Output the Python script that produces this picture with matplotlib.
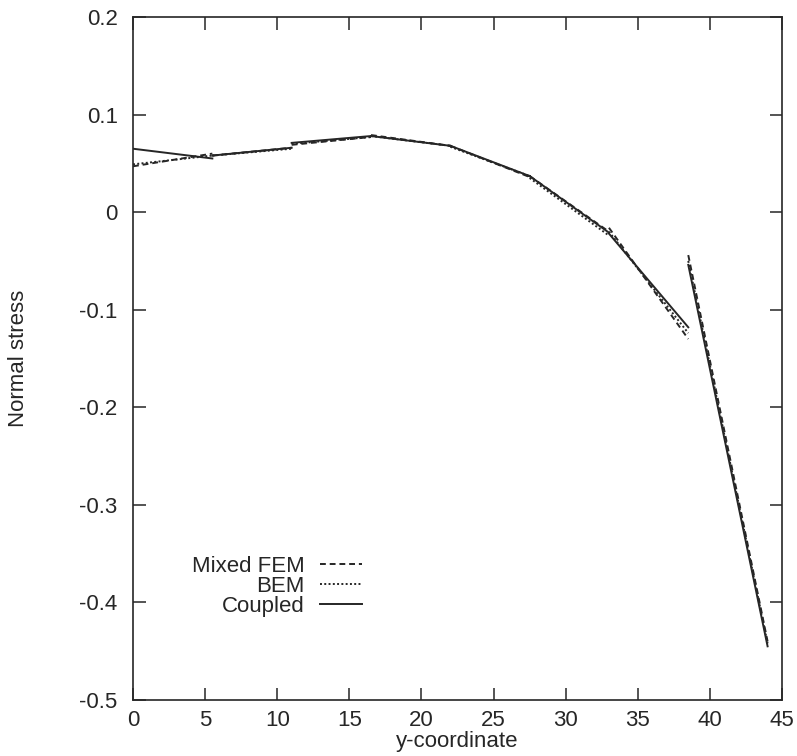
import matplotlib
matplotlib.use("Agg")
import matplotlib.pyplot as plt
from matplotlib.ticker import FuncFormatter

plt.rcParams.update({"font.family": ["Liberation Sans", "DejaVu Sans"],
                     "font.size": 16, "axes.unicode_minus": False})

INK = "#262626"

# element end points (discontinuous, piecewise linear per element)
elem_edges = [0.0, 5.5, 11.0, 16.5, 22.0, 27.5, 33.0, 38.5, 44.0]

# (start value, end value) per element
mixed_fem = [(0.047, 0.060), (0.058, 0.066), (0.069, 0.077), (0.079, 0.068),
             (0.068, 0.036), (0.037, -0.020), (-0.016, -0.130), (-0.044, -0.440)]
bem = [(0.049, 0.058), (0.058, 0.065), (0.070, 0.077), (0.078, 0.068),
       (0.067, 0.037), (0.035, -0.024), (-0.020, -0.124), (-0.050, -0.442)]
coupled = [(0.065, 0.055), (0.058, 0.066), (0.071, 0.078), (0.078, 0.068),
           (0.068, 0.037), (0.037, -0.021), (-0.022, -0.118), (-0.054, -0.445)]

series = [("Mixed FEM", mixed_fem, (0, (3, 2))),
          ("BEM", bem, (0, (1, 1.2))),
          ("Coupled", coupled, "-")]

fig = plt.figure(figsize=(7.97, 7.56), dpi=100)
ax = fig.add_axes([0.1669, 0.0741, 0.8143, 0.9034])

for name, vals, ls in series:
    xs, ys = [], []
    for i, (a, b) in enumerate(vals):
        xs += [elem_edges[i], elem_edges[i + 1], float("nan")]
        ys += [a, b, float("nan")]
    ax.plot(xs, ys, color=INK, lw=1.4, ls=ls, label=name)

ax.set_xlim(0, 45)
ax.set_ylim(-0.5, 0.2)
ax.set_xticks(range(0, 46, 5))
ax.set_yticks([-0.5, -0.4, -0.3, -0.2, -0.1, 0.0, 0.1, 0.2])
ax.yaxis.set_major_formatter(FuncFormatter(lambda v, p: "0" if abs(v) < 1e-9 else f"{v:.1f}"))
ax.tick_params(direction="in", length=9, width=1.1, top=True, right=True,
               colors=INK, labelcolor=INK, labelsize=16)
ax.tick_params(axis="x", pad=7)
ax.tick_params(axis="y", pad=11)
for s in ax.spines.values():
    s.set_linewidth(1.2)
    s.set_color(INK)

ax.set_xlabel("y-coordinate", color=INK, labelpad=0, fontsize=16)
ax.set_ylabel("Normal stress", color=INK, fontsize=16)
ax.yaxis.set_label_coords(-0.16, 0.5)

leg = ax.legend(loc="center right", bbox_to_anchor=(0.353, 0.166), frameon=False,
                markerfirst=False, handlelength=1.9, handletextpad=0.7,
                labelspacing=-0.05, borderpad=0, borderaxespad=0, fontsize=16)
for t in leg.get_texts():
    t.set_color(INK)

fig.savefig("out.png", dpi=100)
